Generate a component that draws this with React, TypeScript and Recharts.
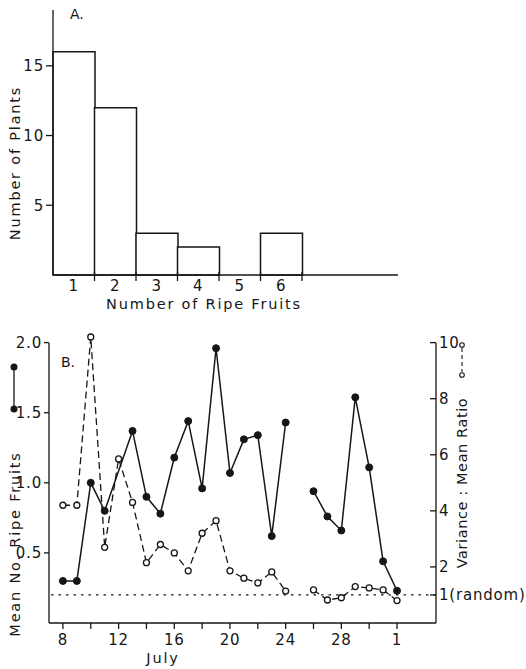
import { BarChart, Bar, XAxis, YAxis, ComposedChart, Line, ReferenceLine } from "recharts";

const FONT = "'DejaVu Sans', sans-serif";
const INK = "#161616";

// A. plants by number of ripe fruits
const fruitCounts = ["1", "2", "3", "4", "5", "6"];
const plantNumbers = [16, 12, 3, 2, 0, 3];
const plantTicks = [5, 10, 15];

// B. daily mean ripe fruits and variance:mean ratio (day 32 = 1 Aug)
const days = [8, 9, 10, 11, 12, 13, 14, 15, 16, 17, 18, 19, 20, 21, 22, 23, 24, 25, 26, 27, 28, 29, 30, 31, 32];
const meanRipe = [0.3, 0.3, 1.0, 0.8, null, 1.37, 0.9, 0.78, 1.18, 1.44, 0.96, 1.96, 1.07, 1.31, 1.34, 0.62, 1.43, null, 0.94, 0.76, 0.66, 1.61, 1.11, 0.44, 0.23];
const varMeanRatio = [4.2, 4.2, 10.2, 2.7, 5.85, 4.3, 2.15, 2.8, 2.5, 1.86, 3.2, 3.65, 1.86, 1.6, 1.43, 1.82, 1.14, null, 1.18, 0.82, 0.9, 1.3, 1.25, 1.18, 0.8];
const gapDay = 25;
const dayTicks = [8, 10, 12, 14, 16, 18, 20, 22, 24, 26, 28, 30, 32];
const labelledDays = [8, 12, 16, 20, 24, 28, 32];
const dayTickLabels = ["8", "12", "16", "20", "24", "28", "1"];
const meanTicks = [0.5, 1, 1.5, 2];
const meanTickLabels = ["0.5", "1.0", "1.5", "2.0"];
const ratioTicks = [1, 2, 4, 6, 8, 10];
const ratioTickLabels = ["1(random)", "2", "4", "6", "8", "10"];

const histData = fruitCounts.map((f, i) => ({ fruits: f, plants: plantNumbers[i] }));
const dayRows = days.map((d, i) => ({ day: d, mean: meanRipe[i], ratio: varMeanRatio[i] }));
const beforeGap = dayRows.filter((r) => r.day < gapDay);
const afterGap = dayRows.filter((r) => r.day > gapDay);

const textStyle = { fill: INK, fontFamily: FONT, fontSize: 15, letterSpacing: 0.8 };

function Title({ px, py, angle = 0, spacing = 1.8, text }: { px: number; py: number; angle?: number; spacing?: number; text: string }) {
  return (
    <text
      x={px}
      y={py}
      transform={angle ? `rotate(${angle} ${px} ${py})` : undefined}
      textAnchor="middle"
      dominantBaseline="central"
      fill={INK}
      fontFamily={FONT}
      fontSize={14.5}
      letterSpacing={spacing}
    >
      {text}
    </text>
  );
}

function FruitTick(props: any) {
  const { x, y, payload } = props;
  const edge = x + (payload.offset || 0);
  return (
    <g>
      <line x1={edge} x2={edge} y1={y - 3} y2={y + 6} stroke={INK} strokeWidth={1.3} />
      <text x={x} y={y + 11} textAnchor="middle" dominantBaseline="central" {...textStyle}>
        {payload.value}
      </text>
    </g>
  );
}

function DayTick(props: any) {
  const { x, y, payload } = props;
  const k = labelledDays.indexOf(payload.value);
  return (
    <g>
      <line x1={x} x2={x} y1={y} y2={y + 6} stroke={INK} strokeWidth={1.3} />
      {k >= 0 && (
        <text x={x} y={y + 17} textAnchor="middle" dominantBaseline="central" {...textStyle}>
          {dayTickLabels[k]}
        </text>
      )}
    </g>
  );
}

function RatioTick(props: any) {
  const { x, y, payload } = props;
  const k = ratioTicks.indexOf(payload.value);
  return (
    <g>
      <line x1={x - 6} x2={x} y1={y} y2={y} stroke={INK} strokeWidth={1.3} />
      <text x={x + 3} y={y} textAnchor="start" dominantBaseline="central" {...textStyle}>
        {ratioTickLabels[k]}
      </text>
    </g>
  );
}

function MeanTitle() {
  return (
    <g>
      <line x1={14} x2={14} y1={47} y2={89} stroke={INK} strokeWidth={1.3} />
      <circle cx={14} cy={47} r={3.5} fill={INK} />
      <circle cx={14} cy={89} r={3.5} fill={INK} />
      <Title px={15} py={224} angle={-90} text="Mean No. Ripe Fruits" />
    </g>
  );
}

function RatioTitle() {
  return (
    <g>
      <line x1={462} x2={462} y1={28} y2={52} stroke={INK} strokeWidth={1.1} strokeDasharray="4 3" />
      <circle cx={462} cy={25} r={2.3} fill="#fff" stroke={INK} strokeWidth={1.1} />
      <circle cx={462} cy={55} r={2.3} fill="#fff" stroke={INK} strokeWidth={1.1} />
      <Title px={462} py={163} angle={-90} spacing={0.6} text="Variance : Mean Ratio" />
    </g>
  );
}

export default function App() {
  return (
    <div style={{ position: "absolute", left: 0, top: 0, width: 526, height: 669, background: "#fff" }}>
      <div style={{ position: "absolute", left: 0, top: 0 }}>
        <BarChart
          width={526}
          height={320}
          data={histData}
          margin={{ top: 10, right: 128, bottom: 0, left: 0 }}
          barCategoryGap={0}
          barGap={0}
        >
          <XAxis
            dataKey="fruits"
            type="category"
            height={45}
            padding={{ left: 0, right: 96 }}
            interval={0}
            axisLine={{ stroke: INK, strokeWidth: 1.3 }}
            tickLine={false}
            tickSize={0}
            tickMargin={0}
            tick={(p: any) => <FruitTick {...p} />}
            label={{ content: () => <Title px={204} py={304} text="Number of Ripe Fruits" /> }}
          />
          <YAxis
            width={53}
            domain={[0, 19]}
            ticks={plantTicks}
            interval={0}
            axisLine={{ stroke: INK, strokeWidth: 1.3 }}
            tickLine={{ stroke: INK, strokeWidth: 1.3 }}
            tickSize={7}
            tickMargin={2}
            tick={textStyle}
            label={{ content: () => <Title px={15} py={163} angle={-90} text="Number of Plants" /> }}
          />
          <Bar dataKey="plants" fill="#fff" stroke={INK} strokeWidth={1.5} isAnimationActive={false} />
        </BarChart>
      </div>
      <div style={{ position: "absolute", left: 70, top: 6, fontFamily: FONT, fontSize: 14, color: INK }}>A.</div>

      <div style={{ position: "absolute", left: 0, top: 320 }}>
        <ComposedChart width={526} height={349} data={dayRows} margin={{ top: 17, right: 0, bottom: 0, left: 0 }}>
          <XAxis
            dataKey="day"
            type="number"
            domain={[7, 34.8]}
            ticks={dayTicks}
            interval={0}
            height={46}
            axisLine={{ stroke: INK, strokeWidth: 1.3 }}
            tickLine={false}
            tickSize={0}
            tickMargin={0}
            tick={(p: any) => <DayTick {...p} />}
            label={{ content: () => <Title px={163} py={338} text="July" /> }}
          />
          <YAxis
            yAxisId="mean"
            width={49}
            domain={[0, 2.04]}
            ticks={meanTicks}
            interval={0}
            tickFormatter={(v: number) => meanTickLabels[meanTicks.indexOf(v)]}
            axisLine={{ stroke: INK, strokeWidth: 1.3, strokeDasharray: "0 6 400" }}
            tickLine={{ stroke: INK, strokeWidth: 1.3 }}
            tickSize={5}
            tickMargin={2}
            tick={textStyle}
            label={{ content: () => <MeanTitle /> }}
          />
          <YAxis
            yAxisId="ratio"
            orientation="right"
            width={90}
            domain={[0, 10.2]}
            ticks={ratioTicks}
            interval={0}
            axisLine={{ stroke: INK, strokeWidth: 1.3, strokeDasharray: "0 6 400" }}
            tickLine={false}
            tickSize={0}
            tickMargin={0}
            tick={(p: any) => <RatioTick {...p} />}
            label={{ content: () => <RatioTitle /> }}
          />
          <ReferenceLine yAxisId="ratio" y={1} stroke={INK} strokeWidth={1.2} strokeDasharray="2.5 5" />
          <Line
            yAxisId="ratio"
            data={dayRows}
            dataKey="ratio"
            stroke={INK}
            strokeWidth={1.3}
            strokeDasharray="7 4"
            dot={{ r: 3, fill: "#fff", stroke: INK, strokeWidth: 1.3, strokeDasharray: "" }}
            activeDot={false}
            isAnimationActive={false}
          />
          <Line
            yAxisId="mean"
            data={beforeGap}
            dataKey="mean"
            connectNulls
            stroke={INK}
            strokeWidth={1.5}
            dot={{ r: 3.5, fill: INK, stroke: INK, strokeWidth: 1 }}
            activeDot={false}
            isAnimationActive={false}
          />
          <Line
            yAxisId="mean"
            data={afterGap}
            dataKey="mean"
            connectNulls
            stroke={INK}
            strokeWidth={1.5}
            dot={{ r: 3.5, fill: INK, stroke: INK, strokeWidth: 1 }}
            activeDot={false}
            isAnimationActive={false}
          />
        </ComposedChart>
      </div>
      <div style={{ position: "absolute", left: 61, top: 354, fontFamily: FONT, fontSize: 14, color: INK }}>B.</div>
    </div>
  );
}
